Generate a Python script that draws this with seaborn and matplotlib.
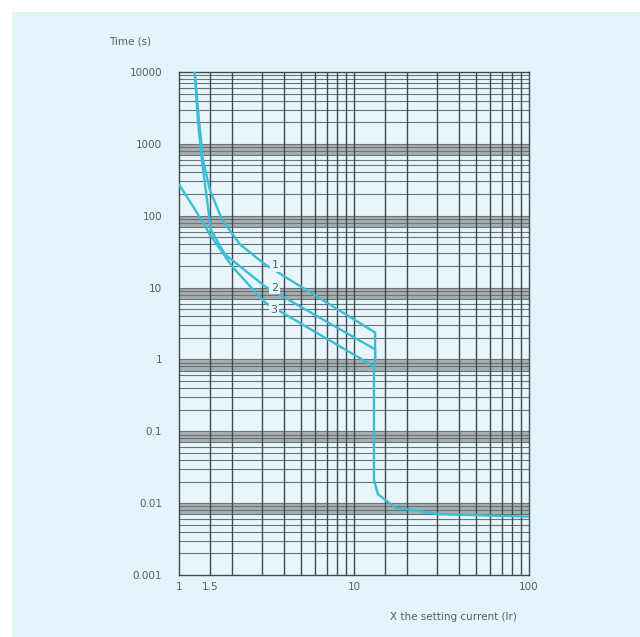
import numpy as np
import pandas as pd
import seaborn as sns
import matplotlib
matplotlib.use("Agg")
import matplotlib.pyplot as plt
from matplotlib.patches import Rectangle

# ---- data ----
curve1_x = [1.23, 1.30, 1.37, 1.50, 1.76, 2.23, 3.10, 13.2, 13.2]
curve1_t = [10000, 2180, 605, 231, 88, 40, 21, 2.37, 0.85]

curve2_x = [1.23, 1.28, 1.35, 1.445, 1.52, 1.83, 3.10, 13.2, 13.2]
curve2_t = [10000, 2180, 605, 168, 64, 29, 10.4, 1.38, 0.85]

curve3_x = [1.0, 1.234, 1.50, 2.01, 3.10, 13.0, 13.0, 13.7, 17.2, 31, 100]
curve3_t = [272, 122, 55, 19.7, 6.2, 0.80, 0.021, 0.0133, 0.0087, 0.0070, 0.0065]

curve_labels = ["1", "2", "3"]
label_x = [3.55, 3.52, 3.48]
label_t = [20.5, 10.0, 4.9]

y_ticks = [10000, 1000, 100, 10, 1, 0.1, 0.01, 0.001]
y_ticklabels = ["10000", "1000", "100", "10", "1", "0.1", "0.01", "0.001"]
x_ticks = [1, 1.5, 10, 100]
x_ticklabels = ["1", "1.5", "10", "100"]

rows = []
for name, xs, ts in [("1", curve1_x, curve1_t), ("2", curve2_x, curve2_t), ("3", curve3_x, curve3_t)]:
    for i, (a, b) in enumerate(zip(xs, ts)):
        rows.append({"curve": name, "order": i, "x": a, "t": b})
df = pd.DataFrame(rows)

# ---- styling ----
sns.set_style("white")
plt.rcParams["font.family"] = ["DejaVu Sans"]

BG = "#e3f4fb"
CURVE = "#3cbdd6"
TXT = "#5a5f62"

fig = plt.figure(figsize=(6.4, 6.37), dpi=100)
fig.patch.set_facecolor("white")
fig.add_artist(Rectangle((12 / 640, 0), 1, 1 - 12 / 637, transform=fig.transFigure,
                         facecolor=BG, edgecolor="none", zorder=-10))

ax = fig.add_axes([179 / 640, 1 - 575 / 637, 350 / 640, 503 / 637])
ax.set_facecolor("#e8f6fc")
ax.set_xscale("log")
ax.set_yscale("log")
ax.set_xlim(1, 100)
ax.set_ylim(0.001, 10000)

# grey bands below each decade
for k in range(-3, 4):
    ax.axhspan(0.7 * 10 ** k, 10 ** k, color="#a9afb1", lw=0, zorder=0)

# horizontal grid lines
for k in range(-3, 4):
    for m in range(1, 10):
        v = m * 10 ** k
        if 0.001 < v < 10000:
            ax.axhline(v, color="#66757a", lw=0.8, zorder=1)
# vertical grid lines
for k in range(0, 2):
    for m in [1.5, 2, 3, 4, 5, 6, 7, 8, 9, 10]:
        v = m * 10 ** k
        if 1 < v < 100:
            ax.axvline(v, color="#3e4b50", lw=1.0, zorder=1)

sns.lineplot(data=df, x="x", y="t", units="curve", estimator=None, sort=False,
             color=CURVE, lw=1.7, ax=ax, zorder=3)

for lab, lx, lt in zip(curve_labels, label_x, label_t):
    ax.text(lx, lt, lab, fontsize=8, color=TXT, ha="center", va="center", zorder=4,
            bbox=dict(boxstyle="square,pad=0.15", facecolor="#e8f6fc", edgecolor="none"))

ax.set_yticks(y_ticks)
ax.set_yticklabels(y_ticklabels)
ax.set_xticks(x_ticks)
ax.set_xticklabels(x_ticklabels)
ax.minorticks_off()
ax.tick_params(axis="both", length=0, labelsize=7.5, labelcolor=TXT)
ax.tick_params(axis="y", pad=12)
ax.tick_params(axis="x", pad=5)
ax.set_xlabel("")
ax.set_ylabel("")
for s in ax.spines.values():
    s.set_color("#3e4b50")
    s.set_linewidth(1.0)

fig.text(130 / 640, 1 - 41 / 637, "Time (s)", fontsize=7.5, color=TXT, ha="center", va="center")
fig.text(517 / 640, 1 - 617 / 637, "X the setting current (Ir)", fontsize=7.5, color=TXT,
         ha="right", va="center")

fig.savefig("out.png", dpi=100, facecolor=fig.get_facecolor())
